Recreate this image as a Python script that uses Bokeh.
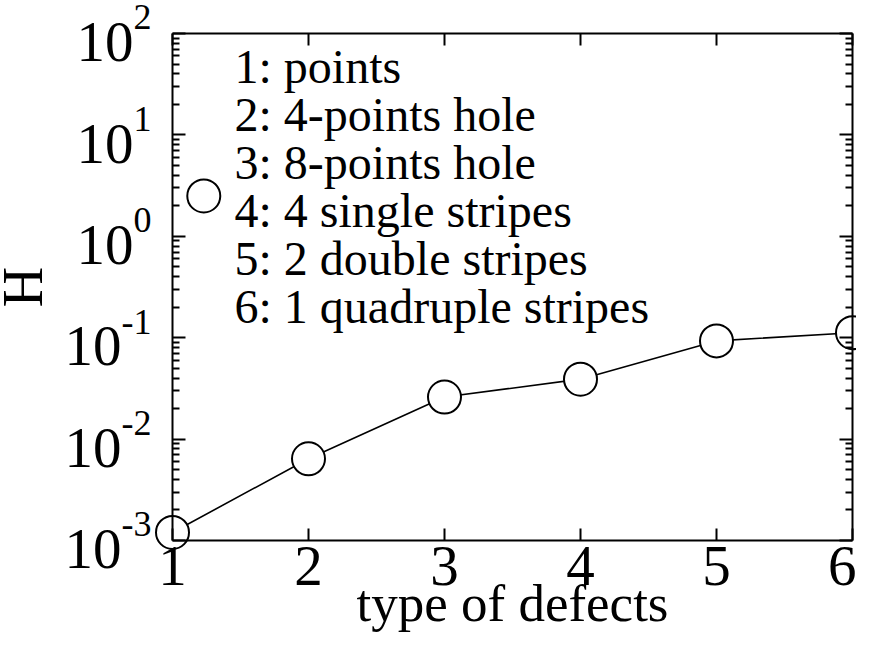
import math
from bokeh.plotting import figure
from bokeh.models import (LinearAxis, LogAxis, FixedTicker, Label, Range1d,
                          CustomJSTickFormatter, LogScale)
from bokeh.embed import file_html
from bokeh.resources import INLINE

# ---- data ----
defect_type = [1, 2, 3, 4, 5, 6]
H_values = [1.2e-3, 6.4e-3, 2.6e-2, 3.9e-2, 9.3e-2, 1.12e-1]
legend_lines = ["1: points", "2: 4-points hole", "3: 8-points hole",
                "4: 4 single stripes", "5: 2 double stripes",
                "6: 1 quadruple stripes"]
legend_marker_x = [1.23]
legend_marker_y = [2.5]
x_ticks = [1, 2, 3, 4, 5, 6]
y_ticks = [1e-3, 1e-2, 1e-1, 1e0, 1e1, 1e2]
y_exponents = ["-3", "-2", "-1", "0", "1", "2"]
x_title = "type of defects"
y_title = "H"

FONT = "Liberation Serif"
BASE_SHIFT = 0.39   # label baseline correction (fraction of font size)

# ---- layout (pixels on the canvas) ----
W, HT = 856, 633
FL, FR, FT, FB = 172, 852, 33, 540   # axis box edges

px_x = (FR - FL) / (x_ticks[-1] - x_ticks[0])
x_start = x_ticks[0] - FL / px_x
x_end = x_ticks[-1] + (W - FR) / px_x
ly0, ly1 = math.log10(y_ticks[0]), math.log10(y_ticks[-1])
px_dec = (FB - FT) / (ly1 - ly0)
y_start = 10 ** (ly0 - (HT - FB) / px_dec)
y_end = 10 ** (ly1 + FT / px_dec)

p = figure(width=W, height=HT,
           x_range=Range1d(x_start, x_end), y_range=Range1d(y_start, y_end),
           y_axis_type="log", x_axis_location=None, y_axis_location=None,
           output_backend="svg", toolbar_location=None,
           min_border_left=0, min_border_right=0,
           min_border_top=0, min_border_bottom=0)
p.y_scale = LogScale()
p.background_fill_color = "white"
p.border_fill_color = "white"
p.outline_line_color = None
p.grid.visible = False

minor_y = [t * m for t in y_ticks[:-1] for m in range(2, 10)]
empty = CustomJSTickFormatter(code="return ''")
xb = (x_ticks[0], x_ticks[-1])
yb = (y_ticks[0], y_ticks[-1])

common = dict(axis_line_width=2, major_tick_line_width=2,
              minor_tick_line_width=2, axis_line_color="black",
              major_tick_line_color="black", minor_tick_line_color="black")

bottom = LinearAxis(fixed_location=y_ticks[0], bounds=xb,
                    ticker=FixedTicker(ticks=x_ticks),
                    major_tick_in=12, major_tick_out=0,
                    minor_tick_in=0, minor_tick_out=0,
                    major_label_text_font=FONT,
                    major_label_text_font_size="57px",
                    major_label_text_color="black",
                    major_label_standoff=6, **common)
bottom.minor_tick_line_color = None
p.add_layout(bottom, "below")

top = LinearAxis(fixed_location=y_ticks[-1], bounds=xb,
                 ticker=FixedTicker(ticks=x_ticks), formatter=empty,
                 major_tick_in=12, major_tick_out=0,
                 minor_tick_in=0, minor_tick_out=0, **common)
top.minor_tick_line_color = None
p.add_layout(top, "above")

left = LogAxis(fixed_location=x_ticks[0], bounds=yb,
               ticker=FixedTicker(ticks=y_ticks, minor_ticks=minor_y),
               formatter=empty, major_tick_in=13, major_tick_out=0,
               minor_tick_in=7, minor_tick_out=0, **common)
p.add_layout(left, "left")

right = LogAxis(fixed_location=x_ticks[-1], bounds=yb,
                ticker=FixedTicker(ticks=y_ticks, minor_ticks=minor_y),
                formatter=empty, major_tick_in=13, major_tick_out=0,
                minor_tick_in=7, minor_tick_out=0, **common)
p.add_layout(right, "right")

# data
p.line(defect_type, H_values, line_color="black", line_width=1.6)
p.scatter(defect_type, H_values, size=33, fill_color="white",
          line_color="black", line_width=2)
p.scatter(legend_marker_x, legend_marker_y, size=33, fill_color="white",
          line_color="black", line_width=2)


def text_label(x, y, text, size, dx=0, dy=0, align="left", angle=0.0,
               baseline="alphabetic"):
    shift = BASE_SHIFT * size if baseline == "alphabetic" else 0
    return Label(x=x, y=y, x_offset=dx, y_offset=dy + shift, text=text,
                 text_font=FONT, text_font_size=f"{size}px",
                 text_align=align, text_baseline=baseline, angle=angle,
                 text_color="black")


# y tick labels 10^k
EXP_SIZE, TEN_SIZE = 36, 57
for t, e in zip(y_ticks, y_exponents):
    ew = sum(0.333 if c == "-" else 0.5 for c in e) * EXP_SIZE
    p.add_layout(text_label(x_ticks[0], t, e, EXP_SIZE, dx=-21, dy=2,
                            align="right"))
    p.add_layout(text_label(x_ticks[0], t, "10", TEN_SIZE, dx=-21 - ew,
                            dy=-31, align="right"))

# legend text
LEG_SIZE = 48
for i, s in enumerate(legend_lines):
    p.add_layout(text_label(x_ticks[0], y_ticks[-1], s, LEG_SIZE, dx=62,
                            dy=-52 - 48 * i))

# axis titles
p.add_layout(text_label((x_ticks[0] + x_ticks[-1]) / 2, y_ticks[0], x_title,
                        53, dy=-83, align="center"))
y_mid = math.sqrt(y_ticks[0] * y_ticks[-1])
p.add_layout(text_label(x_ticks[0], y_mid, y_title, 56, dx=-150,
                        align="center", angle=math.pi / 2,
                        baseline="middle"))

open("out.html", "w").write(file_html(p, INLINE))
